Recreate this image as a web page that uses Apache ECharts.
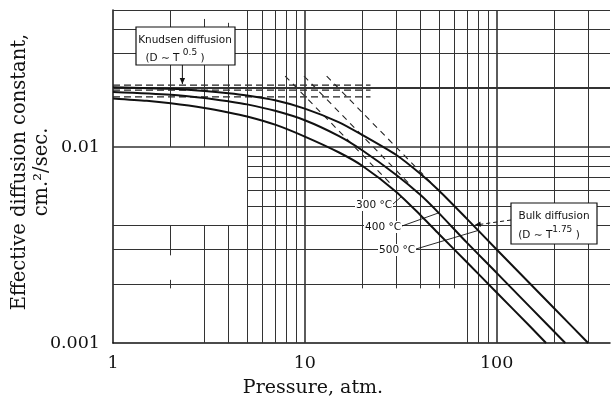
<!DOCTYPE html>
<html>
<head>
<meta charset="utf-8">
<script src="https://cdn.jsdelivr.net/npm/echarts/dist/echarts.min.js"></script>
<style>
  html, body { margin: 0; padding: 0; background: #fff; }
  #chart { width: 613px; height: 400px; }
</style>
</head>
<body>
<div id="chart"></div>
<script>
// Effective diffusion constant vs pressure, three temperatures (log-log)
const temperatureLabels = ['300 °C', '400 °C', '500 °C'];

const pressure300 = [1, 1.5, 2, 3, 4, 5, 7, 10, 15, 20, 30, 40, 50, 70, 100, 150, 181];
const diffusion300 = [0.0177, 0.0172, 0.0167, 0.0158, 0.0150, 0.0143, 0.0130, 0.0113, 0.0094, 0.0080, 0.0059, 0.0045, 0.0036, 0.00258, 0.00181, 0.00121, 0.00100];

const pressure400 = [1, 2, 3, 4, 5, 7, 10, 15, 20, 30, 40, 50, 70, 100, 150, 228];
const diffusion400 = [0.0191, 0.0185, 0.0178, 0.0171, 0.0165, 0.0153, 0.0137, 0.0114, 0.0096, 0.0072, 0.0057, 0.0046, 0.00325, 0.00228, 0.00152, 0.00100];

const pressure500 = [1, 2, 3, 4, 5, 7, 10, 15, 20, 30, 40, 50, 70, 100, 150, 200, 300];
const diffusion500 = [0.0202, 0.0198, 0.0193, 0.0188, 0.0183, 0.0173, 0.0157, 0.0134, 0.0115, 0.0091, 0.0073, 0.0060, 0.0043, 0.00300, 0.00200, 0.00150, 0.00100];

// Knudsen limits (horizontal asymptotes), 300/400/500 °C
const knudsenLevels = [0.0180, 0.0195, 0.0207];
const knudsenPressureRange = [1, 22];

// Bulk-diffusion asymptotes, end points [pressure, D]
const bulkStart = [[7.9, 0.023], [9.9, 0.023], [13, 0.023]];
const bulkEnd = [[28, 0.0065], [35, 0.0065], [46, 0.0065]];

// Axis ranges and labelled ticks
const pressureRange = [1, 390];
const diffusionRange = [0.001, 0.05];
const pressureTicks = [1, 10, 100];
const diffusionTicks = [0.001, 0.01];

// Graph-paper rulings
const rulingPressures = [2, 3, 4, 5, 6, 7, 8, 9, 10, 20, 30, 40, 50, 60, 70, 80, 90, 100, 200, 300];
const rulingPressureSpans = {
  2: [[0.05, 0.01], [0.004, 0.0028], [0.0021, 0.0019]],
  3: [[0.045, 0.01], [0.004, 0.001]],
  4: [[0.043, 0.01], [0.004, 0.001]],
  20: [[0.05, 0.0019]], 30: [[0.05, 0.0019]], 40: [[0.05, 0.0019]],
  50: [[0.05, 0.0019]], 60: [[0.05, 0.0019]]
};
const rulingDiffusions = [0.002, 0.003, 0.004, 0.005, 0.006, 0.007, 0.008, 0.009, 0.01, 0.02, 0.03, 0.04, 0.05];
const rulingDiffusionSpans = {
  0.005: [[5, 390]], 0.006: [[5, 390]], 0.007: [[5, 390]], 0.008: [[5, 390]], 0.009: [[5, 390]]
};
const heavyPressures = [10, 100];
const heavyDiffusions = [0.01, 0.02];

const zip = (xs, ys) => xs.map((x, i) => [x, ys[i]]);
const isDecade = v => Math.abs(Math.log10(v) - Math.round(Math.log10(v))) < 1e-6;
const INK = '#111';
const SERIF = '"DejaVu Serif", serif';
const SANS = '"DejaVu Sans", sans-serif';

// Build ruling segments in data coordinates
const rulings = [];
rulingPressures.forEach(p => {
  const spans = rulingPressureSpans[p] || [[diffusionRange[1], diffusionRange[0]]];
  const w = heavyPressures.includes(p) ? 1.6 : 1;
  spans.forEach(([a, b]) => rulings.push([
    { coord: [p, a], lineStyle: { width: w, color: '#333', type: 'solid' } },
    { coord: [p, b] }
  ]));
});
rulingDiffusions.forEach(d => {
  const spans = rulingDiffusionSpans[d] || [pressureRange];
  const w = heavyDiffusions.includes(d) ? (d === 0.02 ? 2 : 1.6) : 1;
  spans.forEach(([a, b]) => rulings.push([
    { coord: [a, d], lineStyle: { width: w, color: '#333', type: 'solid' } },
    { coord: [b, d] }
  ]));
});

const chart = echarts.init(document.getElementById('chart'), null, { renderer: 'canvas' });

const curveSeries = [
  [pressure300, diffusion300],
  [pressure400, diffusion400],
  [pressure500, diffusion500]
].map(([xs, ys], i) => ({
  name: temperatureLabels[i],
  type: 'line',
  data: zip(xs, ys),
  showSymbol: false,
  smooth: 0.25,
  z: 5,
  lineStyle: { color: INK, width: 2 }
}));

const knudsenSeries = knudsenLevels.map(d => ({
  type: 'line',
  data: [[knudsenPressureRange[0], d], [knudsenPressureRange[1], d]],
  showSymbol: false,
  z: 4,
  lineStyle: { color: '#222', width: 1.3, type: [7, 4] }
}));

const bulkSeries = bulkStart.map((s, i) => ({
  type: 'line',
  data: [s, bulkEnd[i]],
  showSymbol: false,
  z: 4,
  lineStyle: { color: '#222', width: 1.1, type: [6, 5] }
}));

chart.setOption({
  animation: false,
  backgroundColor: '#fff',
  grid: { left: 113, right: 0, top: 10, bottom: 57 },
  xAxis: {
    type: 'log', logBase: 10,
    min: pressureRange[0], max: pressureRange[1],
    axisLine: { show: true, onZero: false, lineStyle: { color: INK, width: 1.5 } },
    axisTick: { show: false },
    splitLine: { show: false },
    axisLabel: {
      margin: 11, color: INK, fontFamily: SERIF, fontSize: 17.5,
      formatter: v => (isDecade(v) && pressureTicks.some(t => Math.abs(t - v) / t < 1e-6)) ? String(Math.round(v)) : ''
    }
  },
  yAxis: {
    type: 'log', logBase: 10,
    min: diffusionRange[0], max: diffusionRange[1],
    axisLine: { show: true, onZero: false, lineStyle: { color: INK, width: 1.5 } },
    axisTick: { show: false },
    splitLine: { show: false },
    axisLabel: {
      margin: 13, color: INK, fontFamily: SERIF, fontSize: 17.5,
      formatter: v => {
        const t = diffusionTicks.find(t => Math.abs(t - v) / t < 1e-6);
        return t ? String(t) : '';
      }
    }
  },
  series: [
    {
      type: 'line', data: [], z: 1, silent: true,
      markLine: {
        silent: true, symbol: ['none', 'none'],
        label: { show: false }, emphasis: { disabled: true },
        animation: false,
        data: rulings
      }
    },
    ...knudsenSeries,
    ...bulkSeries,
    ...curveSeries
  ]
});

// Annotations positioned from data coordinates
const px = (x, y) => chart.convertToPixel({ gridIndex: 0 }, [x, y]);

function arrowHead(tip, from, size) {
  const dx = tip[0] - from[0], dy = tip[1] - from[1];
  const len = Math.hypot(dx, dy) || 1;
  const ux = dx / len, uy = dy / len;
  const bx = tip[0] - ux * size, by = tip[1] - uy * size;
  const w = size * 0.45;
  return {
    type: 'polygon', z: 20, silent: true,
    shape: { points: [tip, [bx - uy * w, by + ux * w], [bx + uy * w, by - ux * w]] },
    style: { fill: INK }
  };
}

function lineEl(a, b, width, dash) {
  return {
    type: 'line', z: 20, silent: true,
    shape: { x1: a[0], y1: a[1], x2: b[0], y2: b[1] },
    style: { stroke: INK, lineWidth: width || 1, lineDash: dash || null }
  };
}

function textEl(text, x, y, opts) {
  return Object.assign({
    type: 'text', z: 22, silent: true, x: x, y: y,
    style: Object.assign({
      text: text, fill: INK, font: '10.5px ' + SANS,
      align: 'center', verticalAlign: 'middle'
    }, (opts && opts.style) || {})
  }, (opts && opts.el) || {});
}

const richFormula = {
  a: { fontFamily: SANS, fontSize: 10.5, fill: INK, lineHeight: 16, verticalAlign: 'bottom' },
  s: { fontFamily: SANS, fontSize: 9, fill: INK, lineHeight: 16, verticalAlign: 'top' }
};

const graphics = [];

// Knudsen box
graphics.push({
  type: 'rect', z: 19, silent: true,
  shape: { x: 136, y: 27, width: 99, height: 38 },
  style: { fill: '#fff', stroke: INK, lineWidth: 1.2 }
});
graphics.push(textEl('Knudsen diffusion', 185, 40));
graphics.push({
  type: 'text', z: 22, silent: true, x: 175, y: 56,
  style: { text: '{a|(D ∼ T }{s|0.5}{a| )}', rich: richFormula, align: 'center', verticalAlign: 'middle' }
});
const kTip = px(2.3, knudsenLevels[2]);
graphics.push(lineEl([kTip[0], 65], [kTip[0], kTip[1] - 1], 1));
graphics.push(arrowHead([kTip[0], kTip[1] - 1], [kTip[0], 65], 6));

// Bulk box
graphics.push({
  type: 'rect', z: 19, silent: true,
  shape: { x: 511, y: 203, width: 86, height: 41 },
  style: { fill: '#fff', stroke: INK, lineWidth: 1.2 }
});
graphics.push(textEl('Bulk diffusion', 554, 216));
graphics.push({
  type: 'text', z: 22, silent: true, x: 549, y: 233,
  style: { text: '{a|(D ∼ T}{s|1.75}{a| )}', rich: richFormula, align: 'center', verticalAlign: 'middle' }
});
const bTip = px(76, 0.0040);
graphics.push(lineEl([511, 220], [bTip[0] + 2, bTip[1]], 1, [4, 3]));
graphics.push(arrowHead([bTip[0] + 1, bTip[1]], [511, 220], 6));

// Temperature labels with leaders to their curves
const labelAnchors = [[374, 205], [383, 227], [397, 250]];
const leaderEnds = [px(32, 0.0056), px(49.5, 0.0046), px(80, 0.00375)];
temperatureLabels.forEach((t, i) => {
  const [cx, cy] = labelAnchors[i];
  graphics.push({
    type: 'rect', z: 21, silent: true,
    shape: { x: cx - 19, y: cy - 6, width: 38, height: 12 },
    style: { fill: '#fff' }
  });
  graphics.push(textEl(t, cx, cy));
  graphics.push(lineEl([cx + 19, cy - 1], leaderEnds[i], 0.9));
});

// Axis titles
graphics.push({
  type: 'text', z: 22, silent: true, x: 20, y: 172, rotation: Math.PI / 2,
  style: { text: 'Effective diffusion constant,', fill: INK, font: '19.5px ' + SERIF, align: 'center', verticalAlign: 'middle' }
});
graphics.push({
  type: 'text', z: 22, silent: true, x: 42, y: 172, rotation: Math.PI / 2,
  style: { text: 'cm.²/sec.', fill: INK, font: '19.5px ' + SERIF, align: 'center', verticalAlign: 'middle' }
});
graphics.push({
  type: 'text', z: 22, silent: true, x: 313, y: 388,
  style: { text: 'Pressure, atm.', fill: INK, font: '19px ' + SERIF, align: 'center', verticalAlign: 'middle' }
});

chart.setOption({ graphic: graphics });
</script>
</body>
</html>
